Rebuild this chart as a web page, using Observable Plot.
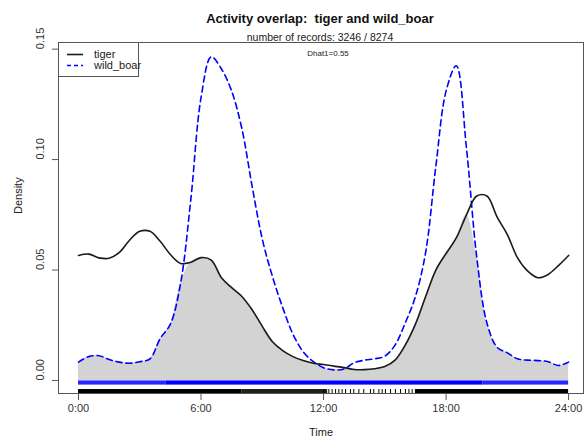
<!DOCTYPE html>
<html>
<head>
<meta charset="utf-8">
<script src="https://cdn.jsdelivr.net/npm/d3@7"></script>
<script src="https://cdn.jsdelivr.net/npm/@observablehq/plot@0.6"></script>
<style>
  body { margin: 0; background: white; }
  #wrap { position: relative; width: 588px; height: 443px; font-family: "Liberation Sans", Arial, sans-serif; color: #222; }
  .abs { position: absolute; white-space: pre; }
</style>
</head>
<body>
<div id="wrap"></div>
<script>
// Time grid (hours) shared by both density curves
const hours = [0,0.5,1,1.5,2,2.5,3,3.5,4,4.5,5,5.5,6,6.5,7,7.5,8,8.5,9,9.5,10,10.5,11,11.5,12,
               12.5,13,13.5,14,14.5,15,15.5,16,16.5,17,17.5,18,18.5,19,19.5,20,20.5,21,21.5,22,22.5,23,23.5,24];
const tigerDensity = [0.0566,0.0572,0.0555,0.0553,0.0580,0.0635,0.0675,0.0675,0.0630,0.0570,0.0530,0.0535,0.0556,0.0545,
                      0.0465,0.0420,0.0380,0.0320,0.0245,0.0175,0.0135,0.0108,0.0090,0.0078,0.0072,0.0065,0.0058,0.0050,
                      0.0049,0.0053,0.0063,0.0092,0.0160,0.0255,0.0380,0.0500,0.0575,0.0645,0.0750,0.0835,0.0835,0.0740,
                      0.0660,0.0555,0.0495,0.0465,0.0480,0.0520,0.0566];
const boarDensity  = [0.0083,0.0108,0.0112,0.0095,0.0083,0.0078,0.0085,0.0098,0.0190,0.0255,0.0440,0.0820,0.1280,0.1465,
                      0.1410,0.1310,0.1140,0.0880,0.0640,0.0470,0.0330,0.0210,0.0130,0.0085,0.0058,0.0048,0.0052,0.0080,
                      0.0092,0.0098,0.0110,0.0160,0.0260,0.0380,0.0580,0.0970,0.1310,0.1425,0.1050,0.0560,0.0260,0.0150,
                      0.0125,0.0098,0.0092,0.0090,0.0085,0.0068,0.0083];

// Rug: dense spans of records [start, end, density-of-ticks] and isolated tiger records
const boarRugSpans  = [[0, 4.3, 0.85], [4.3, 19.8, 1], [19.8, 24, 0.85]];
const tigerRugSpans = [[0, 8, 1], [8, 12.2, 0.88], [16.5, 24, 1]];
const tigerRugSparse = [12.02,12.26,12.42,12.59,12.75,12.91,13.08,13.32,13.48,13.73,13.97,14.30,14.46,
                        14.71,14.87,15.03,15.28,15.52,15.77,16.01,16.18,16.34,16.50];

const xTicks = [0, 6, 12, 18, 24];
const xTickLabels = ["0:00", "6:00", "12:00", "18:00", "24:00"];
const yTicks = [0, 0.05, 0.10, 0.15];
const yTickLabels = ["0.00", "0.05", "0.10", "0.15"];

const titleText = "Activity overlap:  tiger and wild_boar";
const subtitleText = "number of records: 3246 / 8274";
const dhatText = "Dhat1=0.55";
const seriesNames = ["tiger", "wild_boar"];

const rows = hours.map((h, i) => ({h, t: tigerDensity[i], b: boarDensity[i]}));
const spanRows = s => s.map(([a, b, o]) => ({a, b, o}));

const chart = Plot.plot({
  width: 588, height: 443,
  marginLeft: 58, marginRight: 5, marginTop: 42, marginBottom: 50,
  style: {fontFamily: "'Liberation Sans', Arial, sans-serif", fontSize: "11px", color: "#333", background: "white", overflow: "visible"},
  x: {domain: [-0.98, 24.73]},
  y: {domain: [-0.0059, 0.153]},
  marks: [
    Plot.areaY(rows, {x: "h", y1: 0, y2: d => Math.min(d.t, d.b), fill: "#D3D3D3", curve: "catmull-rom"}),
    Plot.line(rows, {x: "h", y: "b", stroke: "#0000FF", strokeWidth: 1.6, strokeDasharray: "6,4", curve: "catmull-rom"}),
    Plot.line(rows, {x: "h", y: "t", stroke: "#1a1a1a", strokeWidth: 1.6, curve: "catmull-rom"}),
    Plot.rect(spanRows(boarRugSpans), {x1: "a", x2: "b", y1: -0.0002, y2: -0.0021, fill: "#0000FF", fillOpacity: "o"}),
    Plot.rect(spanRows(tigerRugSpans), {x1: "a", x2: "b", y1: -0.0041, y2: -0.0059, fill: "black", fillOpacity: "o"}),
    Plot.ruleX(tigerRugSparse, {x: d => d, y1: -0.0041, y2: -0.0059, stroke: "black", strokeWidth: 1}),
    Plot.frame({stroke: "#555"}),
    Plot.axisX({ticks: xTicks, tickSize: 7, tickPadding: 4, tickFormat: d => xTickLabels[xTicks.indexOf(d)], label: null, stroke: "#555", fill: "#333", fontSize: 11}),
    Plot.axisY({ticks: yTicks, tickSize: 6, tickFormat: () => "", label: null, stroke: "#555"}),
    Plot.text(yTicks, {y: d => d, text: (d, i) => yTickLabels[i], frameAnchor: "left", dx: -18, rotate: -90, fill: "#333", fontSize: 11}),
    Plot.text(["Time"], {frameAnchor: "bottom", dy: 42, fill: "#222", fontSize: 11}),
    Plot.text(["Density"], {frameAnchor: "left", dx: -40, dy: -4, rotate: -90, fill: "#222", fontSize: 11}),
    Plot.text([dhatText], {frameAnchor: "top", dx: 7, dy: 8, fill: "#222", fontSize: 8})
  ]
});

const wrap = document.getElementById("wrap");
wrap.appendChild(chart);

const title = document.createElement("div");
title.className = "abs";
title.textContent = titleText;
Object.assign(title.style, {left: "52px", width: "536px", top: "11px", textAlign: "center", fontWeight: "bold", fontSize: "13px", color: "#111"});
wrap.appendChild(title);

const sub = document.createElement("div");
sub.className = "abs";
sub.textContent = subtitleText;
Object.assign(sub.style, {left: "52px", width: "536px", top: "31px", textAlign: "center", fontSize: "10.5px", color: "#222"});
wrap.appendChild(sub);

const legend = document.createElement("div");
legend.className = "abs";
Object.assign(legend.style, {left: "58px", top: "42px", width: "79px", height: "33px", border: "1px solid #555", background: "white", fontSize: "11px", color: "#222"});
const items = [
  {name: seriesNames[0], color: "#1a1a1a", dash: null},
  {name: seriesNames[1], color: "#0000FF", dash: "4,3"}
];
items.forEach((it, i) => {
  const row = document.createElement("div");
  Object.assign(row.style, {position: "absolute", left: "8px", top: (6 + i * 11) + "px", height: "11px", display: "flex", alignItems: "center"});
  const svg = d3.create("svg").attr("width", 17).attr("height", 11);
  svg.append("line").attr("x1", 0).attr("x2", 16).attr("y1", 5.5).attr("y2", 5.5)
    .attr("stroke", it.color).attr("stroke-width", 1.6).attr("stroke-dasharray", it.dash);
  row.appendChild(svg.node());
  const lab = document.createElement("span");
  lab.textContent = it.name;
  Object.assign(lab.style, {marginLeft: "10px", lineHeight: "11px"});
  row.appendChild(lab);
  legend.appendChild(row);
});
wrap.appendChild(legend);
</script>
</body>
</html>
